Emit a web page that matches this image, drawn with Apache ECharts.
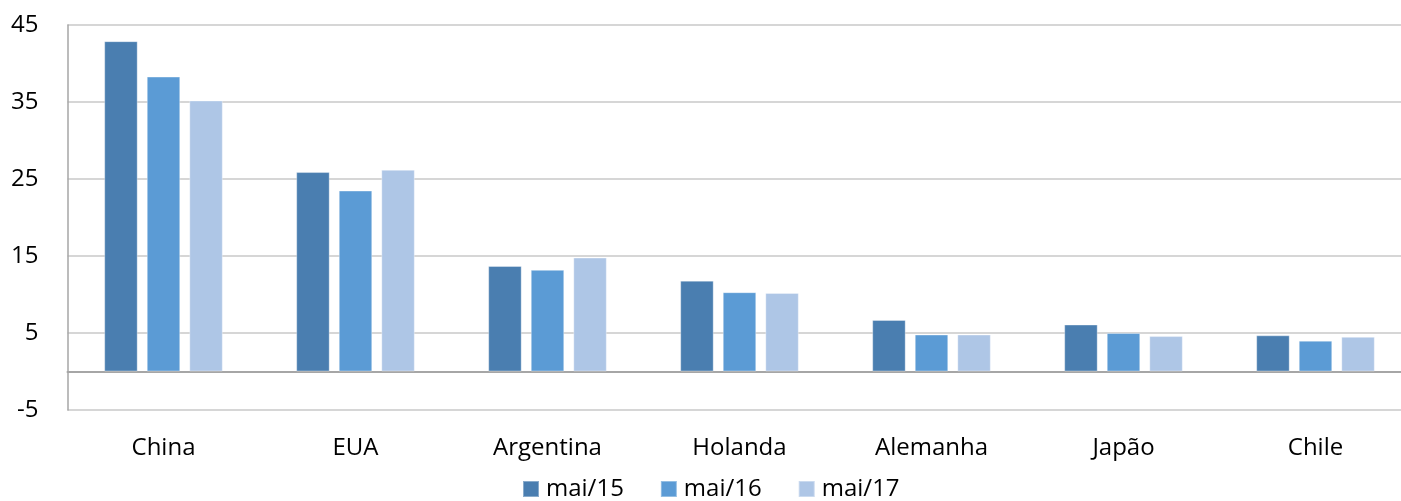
<!DOCTYPE html>
<html>
<head>
<meta charset="utf-8">
<script src="https://cdn.jsdelivr.net/npm/echarts@6/dist/echarts.min.js"></script>
<style>
  html, body { margin: 0; padding: 0; background: #fff; overflow: hidden; }
  #chart { width: 1412px; height: 501px; }
</style>
</head>
<body>
<div id="chart"></div>
<script>
// Export destinations and values per period
const categories = ['China', 'EUA', 'Argentina', 'Holanda', 'Alemanha', 'Japão', 'Chile'];
const seriesNames = ['mai/15', 'mai/16', 'mai/17'];
const mai15 = [42.9, 25.9, 13.7, 11.8, 6.7, 6.1, 4.7];
const mai16 = [38.3, 23.5, 13.2, 10.3, 4.8, 5.0, 4.0];
const mai17 = [35.2, 26.2, 14.8, 10.2, 4.8, 4.6, 4.5];
const yTicks = [-5, 5, 15, 25, 35, 45];

const colors = ['#4A7EB0', '#5B9BD5', '#AEC6E6'];
const font = '"Open Sans", Lato, sans-serif';

const chart = echarts.init(document.getElementById('chart'), null, { renderer: 'canvas' });

const values = [mai15, mai16, mai17];

chart.setOption({
  animation: false,
  backgroundColor: '#ffffff',
  textStyle: { fontFamily: font },
  color: colors,
  grid: { left: 67.5, top: 25, width: 1344, bottom: 91, containLabel: false },
  legend: {
    top: 477,
    left: 522,
    padding: 0,
    itemWidth: 16,
    itemHeight: 16,
    itemGap: 36,
    icon: 'rect',
    textStyle: { fontSize: 24, color: '#000', fontFamily: font, padding: [0, 0, 0, 2] },
    data: seriesNames
  },
  xAxis: [
    {
      type: 'category',
      data: categories,
      position: 'bottom',
      axisLine: { show: false, onZero: false },
      axisTick: { show: false },
      axisLabel: { fontSize: 24, color: '#000', margin: 26, fontFamily: font }
    },
    {
      // zero baseline
      type: 'category',
      data: categories,
      axisLine: { show: true, onZero: true, lineStyle: { color: '#A6A6A6', width: 2 } },
      axisTick: { show: false },
      axisLabel: { show: false }
    }
  ],
  yAxis: {
    type: 'value',
    min: -5,
    max: 45,
    axisLine: { show: true, lineStyle: { color: '#A6A6A6', width: 1.5 } },
    axisTick: { show: false, customValues: yTicks },
    axisLabel: { customValues: yTicks, fontSize: 24, color: '#000', margin: 29, fontFamily: font },
    splitLine: { show: true, lineStyle: { color: '#C8C8C8', width: 1.5 } }
  },
  series: seriesNames.map((name, i) => ({
    name,
    type: 'bar',
    xAxisIndex: 0,
    data: values[i],
    barWidth: 33.5,
    barGap: '27%',
    itemStyle: { color: colors[i], borderColor: 'rgba(255,255,255,0.35)', borderWidth: 1 }
  }))
});
</script>
</body>
</html>
